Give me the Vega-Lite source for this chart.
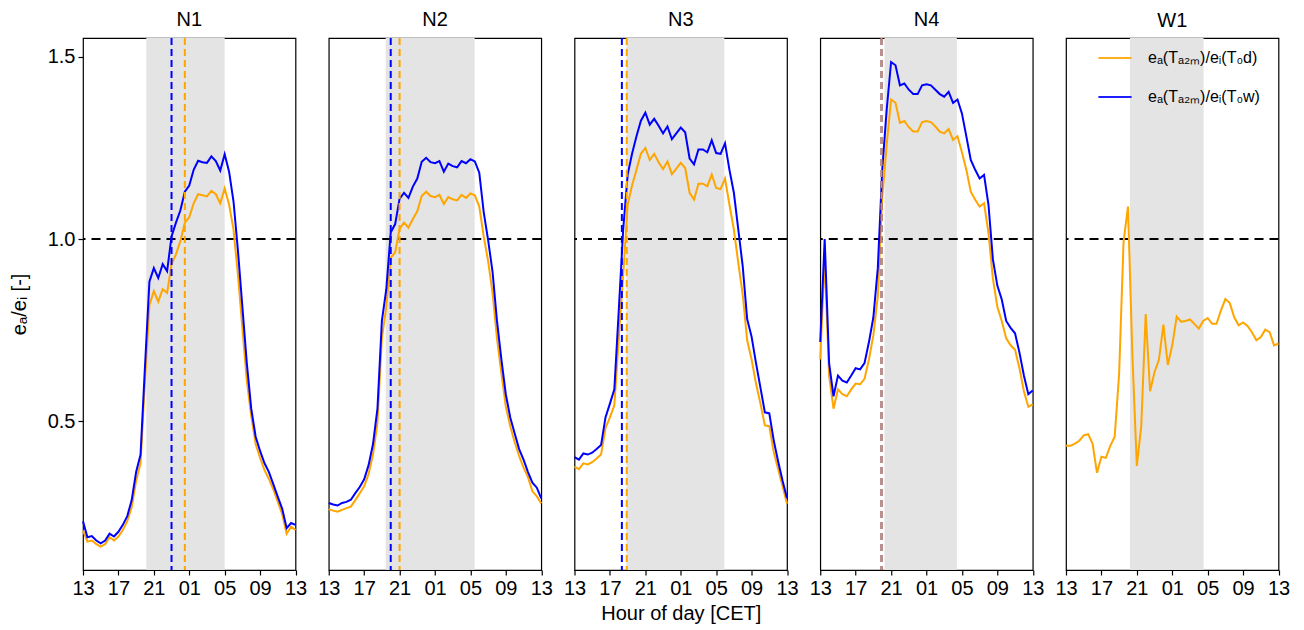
{
"$schema":"https://vega.github.io/schema/vega-lite/v6.json",
"padding":{"left":8,"top":9,"right":10,"bottom":5},
"bounds":"flush",
"spacing":32.75,
"background":"white",
"config":{
 "font":"Liberation Sans",
 "view":{"stroke":"black","strokeWidth":1.2},
 "axis":{"grid":false,"domain":false,"tickColor":"black","tickSize":5,"tickWidth":1.2,"labelColor":"black","labelFontSize":20,"labelFont":"Liberation Sans","titleFont":"Liberation Sans","titleFontSize":20,"titleFontWeight":"normal","titleColor":"black","labelFlush":false,"labelOverlap":false,"labelPadding":3},
 "title":{"fontSize":20,"fontWeight":"normal","color":"black","font":"Liberation Sans","offset":7},
 "legend":{"orient":"none","legendX":1014,"legendY":2,"labelFontSize":16,"labelFont":"Liberation Sans","labelColor":"black","symbolType":"stroke","symbolStrokeWidth":2,"symbolSize":1100,"rowPadding":13,"labelOffset":15,"padding":0,"labelLimit":300}
},
"datasets":{
 "shade":[{"p":"N1","s":7.15,"e":16.0},{"p":"N2","s":6.43,"e":16.48},{"p":"N3","s":5.85,"e":16.92},{"p":"N4","s":7.26,"e":15.43},{"p":"W1","s":7.22,"e":15.54}],
 "vlines":[{"p":"N1","h":10.0,"series":"w"},{"p":"N1","h":11.5,"series":"d"},{"p":"N2","h":7.0,"series":"w"},{"p":"N2","h":8.0,"series":"d"},{"p":"N3","h":5.35,"series":"w"},{"p":"N3","h":5.9,"series":"d"},{"p":"N4","h":6.92,"series":"w"},{"p":"N4","h":6.92,"series":"d"}],
 "lines":[
{"p":"N1","h":0,"d":0.200,"w":0.225},{"p":"N1","h":0.5,"d":0.169,"w":0.181},{"p":"N1","h":1,"d":0.172,"w":0.184},{"p":"N1","h":1.5,"d":0.162,"w":0.172},{"p":"N1","h":2,"d":0.155,"w":0.164},{"p":"N1","h":2.5,"d":0.162,"w":0.172},{"p":"N1","h":3,"d":0.181,"w":0.191},{"p":"N1","h":3.5,"d":0.172,"w":0.183},{"p":"N1","h":4,"d":0.183,"w":0.196},{"p":"N1","h":4.5,"d":0.201,"w":0.215},{"p":"N1","h":5,"d":0.225,"w":0.239},{"p":"N1","h":5.5,"d":0.263,"w":0.283},{"p":"N1","h":6,"d":0.336,"w":0.360},{"p":"N1","h":6.5,"d":0.384,"w":0.408},{"p":"N1","h":7,"d":0.611,"w":0.650},{"p":"N1","h":7.5,"d":0.818,"w":0.883},{"p":"N1","h":8,"d":0.857,"w":0.920},{"p":"N1","h":8.5,"d":0.828,"w":0.893},{"p":"N1","h":9,"d":0.862,"w":0.931},{"p":"N1","h":9.5,"d":0.852,"w":0.912},{"p":"N1","h":10,"d":0.931,"w":1.007},{"p":"N1","h":10.5,"d":0.958,"w":1.045},{"p":"N1","h":11,"d":0.994,"w":1.079},{"p":"N1","h":11.5,"d":1.045,"w":1.130},{"p":"N1","h":12,"d":1.060,"w":1.147},{"p":"N1","h":12.5,"d":1.098,"w":1.190},{"p":"N1","h":13,"d":1.123,"w":1.215},{"p":"N1","h":13.5,"d":1.120,"w":1.211},{"p":"N1","h":14,"d":1.117,"w":1.209},{"p":"N1","h":14.5,"d":1.132,"w":1.227},{"p":"N1","h":15,"d":1.123,"w":1.214},{"p":"N1","h":15.5,"d":1.098,"w":1.188},{"p":"N1","h":16,"d":1.139,"w":1.233},{"p":"N1","h":16.5,"d":1.094,"w":1.185},{"p":"N1","h":17,"d":1.026,"w":1.103},{"p":"N1","h":17.5,"d":0.901,"w":0.968},{"p":"N1","h":18,"d":0.756,"w":0.814},{"p":"N1","h":18.5,"d":0.611,"w":0.659},{"p":"N1","h":19,"d":0.514,"w":0.534},{"p":"N1","h":19.5,"d":0.437,"w":0.457},{"p":"N1","h":20,"d":0.399,"w":0.418},{"p":"N1","h":20.5,"d":0.365,"w":0.384},{"p":"N1","h":21,"d":0.341,"w":0.360},{"p":"N1","h":21.5,"d":0.312,"w":0.326},{"p":"N1","h":22,"d":0.278,"w":0.292},{"p":"N1","h":22.5,"d":0.244,"w":0.259},{"p":"N1","h":23,"d":0.191,"w":0.206},{"p":"N1","h":23.5,"d":0.210,"w":0.220},{"p":"N1","h":24,"d":0.201,"w":0.215},
{"p":"N2","h":0,"d":0.258,"w":0.275},{"p":"N2","h":0.5,"d":0.254,"w":0.271},{"p":"N2","h":1,"d":0.251,"w":0.268},{"p":"N2","h":1.5,"d":0.256,"w":0.275},{"p":"N2","h":2,"d":0.261,"w":0.278},{"p":"N2","h":2.5,"d":0.265,"w":0.284},{"p":"N2","h":3,"d":0.283,"w":0.302},{"p":"N2","h":3.5,"d":0.302,"w":0.319},{"p":"N2","h":4,"d":0.321,"w":0.340},{"p":"N2","h":4.5,"d":0.355,"w":0.379},{"p":"N2","h":5,"d":0.408,"w":0.437},{"p":"N2","h":5.5,"d":0.495,"w":0.534},{"p":"N2","h":6,"d":0.727,"w":0.775},{"p":"N2","h":6.5,"d":0.814,"w":0.862},{"p":"N2","h":7,"d":0.949,"w":1.018},{"p":"N2","h":7.5,"d":0.963,"w":1.041},{"p":"N2","h":8,"d":1.028,"w":1.110},{"p":"N2","h":8.5,"d":1.045,"w":1.127},{"p":"N2","h":9,"d":1.031,"w":1.113},{"p":"N2","h":9.5,"d":1.055,"w":1.144},{"p":"N2","h":10,"d":1.076,"w":1.166},{"p":"N2","h":10.5,"d":1.118,"w":1.212},{"p":"N2","h":11,"d":1.130,"w":1.223},{"p":"N2","h":11.5,"d":1.118,"w":1.211},{"p":"N2","h":12,"d":1.115,"w":1.208},{"p":"N2","h":12.5,"d":1.121,"w":1.214},{"p":"N2","h":13,"d":1.096,"w":1.185},{"p":"N2","h":13.5,"d":1.115,"w":1.207},{"p":"N2","h":14,"d":1.109,"w":1.200},{"p":"N2","h":14.5,"d":1.106,"w":1.197},{"p":"N2","h":15,"d":1.121,"w":1.214},{"p":"N2","h":15.5,"d":1.113,"w":1.208},{"p":"N2","h":16,"d":1.125,"w":1.219},{"p":"N2","h":16.5,"d":1.120,"w":1.213},{"p":"N2","h":17,"d":1.089,"w":1.182},{"p":"N2","h":17.5,"d":1.007,"w":1.074},{"p":"N2","h":18,"d":0.939,"w":0.997},{"p":"N2","h":18.5,"d":0.852,"w":0.910},{"p":"N2","h":19,"d":0.727,"w":0.775},{"p":"N2","h":19.5,"d":0.631,"w":0.669},{"p":"N2","h":20,"d":0.539,"w":0.573},{"p":"N2","h":20.5,"d":0.486,"w":0.510},{"p":"N2","h":21,"d":0.442,"w":0.466},{"p":"N2","h":21.5,"d":0.404,"w":0.423},{"p":"N2","h":22,"d":0.372,"w":0.394},{"p":"N2","h":22.5,"d":0.346,"w":0.360},{"p":"N2","h":23,"d":0.307,"w":0.331},{"p":"N2","h":23.5,"d":0.293,"w":0.317},{"p":"N2","h":24,"d":0.274,"w":0.288},
{"p":"N3","h":0,"d":0.375,"w":0.401},{"p":"N3","h":0.5,"d":0.368,"w":0.394},{"p":"N3","h":1,"d":0.384,"w":0.411},{"p":"N3","h":1.5,"d":0.381,"w":0.408},{"p":"N3","h":2,"d":0.387,"w":0.413},{"p":"N3","h":2.5,"d":0.397,"w":0.423},{"p":"N3","h":3,"d":0.408,"w":0.434},{"p":"N3","h":3.5,"d":0.481,"w":0.510},{"p":"N3","h":4,"d":0.510,"w":0.548},{"p":"N3","h":4.5,"d":0.543,"w":0.587},{"p":"N3","h":5,"d":0.727,"w":0.804},{"p":"N3","h":5.5,"d":0.901,"w":1.026},{"p":"N3","h":6,"d":1.094,"w":1.176},{"p":"N3","h":6.5,"d":1.147,"w":1.234},{"p":"N3","h":7,"d":1.190,"w":1.282},{"p":"N3","h":7.5,"d":1.234,"w":1.325},{"p":"N3","h":8,"d":1.250,"w":1.347},{"p":"N3","h":8.5,"d":1.217,"w":1.314},{"p":"N3","h":9,"d":1.234,"w":1.330},{"p":"N3","h":9.5,"d":1.211,"w":1.311},{"p":"N3","h":10,"d":1.192,"w":1.290},{"p":"N3","h":10.5,"d":1.213,"w":1.309},{"p":"N3","h":11,"d":1.178,"w":1.274},{"p":"N3","h":11.5,"d":1.193,"w":1.290},{"p":"N3","h":12,"d":1.209,"w":1.306},{"p":"N3","h":12.5,"d":1.195,"w":1.293},{"p":"N3","h":13,"d":1.127,"w":1.221},{"p":"N3","h":13.5,"d":1.108,"w":1.205},{"p":"N3","h":14,"d":1.152,"w":1.246},{"p":"N3","h":14.5,"d":1.152,"w":1.246},{"p":"N3","h":15,"d":1.145,"w":1.238},{"p":"N3","h":15.5,"d":1.177,"w":1.271},{"p":"N3","h":16,"d":1.140,"w":1.236},{"p":"N3","h":16.5,"d":1.137,"w":1.234},{"p":"N3","h":17,"d":1.166,"w":1.263},{"p":"N3","h":17.5,"d":1.094,"w":1.190},{"p":"N3","h":18,"d":1.026,"w":1.127},{"p":"N3","h":18.5,"d":0.934,"w":1.026},{"p":"N3","h":19,"d":0.847,"w":0.925},{"p":"N3","h":19.5,"d":0.722,"w":0.780},{"p":"N3","h":20,"d":0.669,"w":0.732},{"p":"N3","h":20.5,"d":0.603,"w":0.659},{"p":"N3","h":21,"d":0.548,"w":0.592},{"p":"N3","h":21.5,"d":0.488,"w":0.524},{"p":"N3","h":22,"d":0.486,"w":0.521},{"p":"N3","h":22.5,"d":0.415,"w":0.447},{"p":"N3","h":23,"d":0.368,"w":0.389},{"p":"N3","h":23.5,"d":0.321,"w":0.336},{"p":"N3","h":24,"d":0.273,"w":0.288},
{"p":"N4","h":0,"d":0.669,"w":0.717},{"p":"N4","h":0.5,"d":0.950,"w":1.000},{"p":"N4","h":1,"d":0.625,"w":0.659},{"p":"N4","h":1.5,"d":0.534,"w":0.568},{"p":"N4","h":2,"d":0.587,"w":0.625},{"p":"N4","h":2.5,"d":0.574,"w":0.611},{"p":"N4","h":3,"d":0.568,"w":0.606},{"p":"N4","h":3.5,"d":0.587,"w":0.625},{"p":"N4","h":4,"d":0.603,"w":0.645},{"p":"N4","h":4.5,"d":0.601,"w":0.642},{"p":"N4","h":5,"d":0.616,"w":0.659},{"p":"N4","h":5.5,"d":0.669,"w":0.717},{"p":"N4","h":6,"d":0.736,"w":0.785},{"p":"N4","h":6.5,"d":0.843,"w":0.920},{"p":"N4","h":7,"d":1.113,"w":1.190},{"p":"N4","h":7.5,"d":1.258,"w":1.354},{"p":"N4","h":8,"d":1.383,"w":1.486},{"p":"N4","h":8.5,"d":1.374,"w":1.477},{"p":"N4","h":9,"d":1.319,"w":1.422},{"p":"N4","h":9.5,"d":1.324,"w":1.427},{"p":"N4","h":10,"d":1.307,"w":1.410},{"p":"N4","h":10.5,"d":1.295,"w":1.398},{"p":"N4","h":11,"d":1.295,"w":1.398},{"p":"N4","h":11.5,"d":1.321,"w":1.422},{"p":"N4","h":12,"d":1.324,"w":1.425},{"p":"N4","h":12.5,"d":1.321,"w":1.422},{"p":"N4","h":13,"d":1.309,"w":1.410},{"p":"N4","h":13.5,"d":1.295,"w":1.398},{"p":"N4","h":14,"d":1.290,"w":1.391},{"p":"N4","h":14.5,"d":1.302,"w":1.404},{"p":"N4","h":15,"d":1.272,"w":1.374},{"p":"N4","h":15.5,"d":1.282,"w":1.383},{"p":"N4","h":16,"d":1.238,"w":1.345},{"p":"N4","h":16.5,"d":1.190,"w":1.282},{"p":"N4","h":17,"d":1.130,"w":1.217},{"p":"N4","h":17.5,"d":1.108,"w":1.190},{"p":"N4","h":18,"d":1.089,"w":1.166},{"p":"N4","h":18.5,"d":1.098,"w":1.176},{"p":"N4","h":19,"d":1.016,"w":1.094},{"p":"N4","h":19.5,"d":0.891,"w":0.944},{"p":"N4","h":20,"d":0.814,"w":0.872},{"p":"N4","h":20.5,"d":0.775,"w":0.834},{"p":"N4","h":21,"d":0.727,"w":0.775},{"p":"N4","h":21.5,"d":0.708,"w":0.756},{"p":"N4","h":22,"d":0.696,"w":0.741},{"p":"N4","h":22.5,"d":0.645,"w":0.688},{"p":"N4","h":23,"d":0.582,"w":0.625},{"p":"N4","h":23.5,"d":0.539,"w":0.574},{"p":"N4","h":24,"d":0.546,"w":0.584},
{"p":"W1","h":0,"d":0.432},{"p":"W1","h":0.5,"d":0.432},{"p":"W1","h":1,"d":0.438},{"p":"W1","h":1.5,"d":0.446},{"p":"W1","h":2,"d":0.461},{"p":"W1","h":2.5,"d":0.464},{"p":"W1","h":3,"d":0.438},{"p":"W1","h":3.5,"d":0.358},{"p":"W1","h":4,"d":0.402},{"p":"W1","h":4.5,"d":0.399},{"p":"W1","h":5,"d":0.432},{"p":"W1","h":5.5,"d":0.457},{"p":"W1","h":6,"d":0.630},{"p":"W1","h":6.5,"d":0.992},{"p":"W1","h":7,"d":1.089},{"p":"W1","h":7.5,"d":0.679},{"p":"W1","h":8,"d":0.377},{"p":"W1","h":8.5,"d":0.486},{"p":"W1","h":9,"d":0.794},{"p":"W1","h":9.5,"d":0.582},{"p":"W1","h":10,"d":0.635},{"p":"W1","h":10.5,"d":0.669},{"p":"W1","h":11,"d":0.765},{"p":"W1","h":11.5,"d":0.654},{"p":"W1","h":12,"d":0.708},{"p":"W1","h":12.5,"d":0.787},{"p":"W1","h":13,"d":0.773},{"p":"W1","h":13.5,"d":0.775},{"p":"W1","h":14,"d":0.779},{"p":"W1","h":14.5,"d":0.767},{"p":"W1","h":15,"d":0.754},{"p":"W1","h":15.5,"d":0.775},{"p":"W1","h":16,"d":0.783},{"p":"W1","h":16.5,"d":0.767},{"p":"W1","h":17,"d":0.767},{"p":"W1","h":17.5,"d":0.804},{"p":"W1","h":18,"d":0.835},{"p":"W1","h":18.5,"d":0.824},{"p":"W1","h":19,"d":0.785},{"p":"W1","h":19.5,"d":0.763},{"p":"W1","h":20,"d":0.771},{"p":"W1","h":20.5,"d":0.761},{"p":"W1","h":21,"d":0.744},{"p":"W1","h":21.5,"d":0.722},{"p":"W1","h":22,"d":0.731},{"p":"W1","h":22.5,"d":0.751},{"p":"W1","h":23,"d":0.744},{"p":"W1","h":23.5,"d":0.708},{"p":"W1","h":24,"d":0.713}
 ]
},
"resolve":{"scale":{"color":"shared","x":"independent","y":"independent"}},
"hconcat":[
 {"width":212.5,"height":532,"title":"N1","layer":[
  {"data":{"name":"shade"},"transform":[{"filter":"datum.p=='N1'"}],"mark":{"type":"rect","color":"#e4e4e4"},
   "encoding":{"x":{"field":"s","type":"quantitative","scale":{"domain":[0,24],"nice":false,"zero":false},"axis":{"values":[0,4,8,12,16,20,24],"labelExpr":"(((datum.value+13)%24)<10?'0':'')+((datum.value+13)%24)","title":null}},"x2":{"field":"e"}}},
  {"data":{"values":[{}]},"mark":{"type":"rule","color":"black","strokeWidth":2,"strokeDash":[9,6]},
   "encoding":{"y":{"datum":1.0,"type":"quantitative","scale":{"domain":[0.091,1.552],"nice":false,"zero":false},"axis":{"values":[0.5,1.0,1.5],"format":".1f","title":"eₐ/eᵢ [-]","titlePadding":18}}}},
  {"data":{"name":"lines"},"transform":[{"filter":"datum.p=='N1'"},{"fold":["d","w"],"as":["series","value"]},{"filter":"isValid(datum.value)"}],"mark":{"type":"line","strokeWidth":2},
   "encoding":{"x":{"field":"h","type":"quantitative","axis":{"values":[0,4,8,12,16,20,24],"labelExpr":"(((datum.value+13)%24)<10?'0':'')+((datum.value+13)%24)","title":null}},"y":{"field":"value","type":"quantitative","axis":{"values":[0.5,1.0,1.5],"format":".1f","title":"eₐ/eᵢ [-]","titlePadding":18}},"color":{"field":"series","type":"nominal","scale":{"domain":["d","w"],"range":["#ffa500","#0000ff"]},"legend":{"title":null,"labelExpr":"datum.value=='d'?'eₐ(Tₐ₂ₘ)/eᵢ(T₀d)':'eₐ(Tₐ₂ₘ)/eᵢ(T₀w)'"}}}},
  {"data":{"name":"vlines"},"transform":[{"filter":"datum.p=='N1'"}],"mark":{"type":"rule","strokeWidth":2,"strokeDash":[7,4]},
   "encoding":{"x":{"field":"h","type":"quantitative","axis":{"values":[0,4,8,12,16,20,24],"labelExpr":"(((datum.value+13)%24)<10?'0':'')+((datum.value+13)%24)","title":null}},"color":{"field":"series","type":"nominal","legend":{"title":null,"labelExpr":"datum.value=='d'?'eₐ(Tₐ₂ₘ)/eᵢ(T₀d)':'eₐ(Tₐ₂ₘ)/eᵢ(T₀w)'"}}}}
 ]},
 {"width":212.5,"height":532,"title":"N2","layer":[
  {"data":{"name":"shade"},"transform":[{"filter":"datum.p=='N2'"}],"mark":{"type":"rect","color":"#e4e4e4"},
   "encoding":{"x":{"field":"s","type":"quantitative","scale":{"domain":[0,24],"nice":false,"zero":false},"axis":{"values":[0,4,8,12,16,20,24],"labelExpr":"(((datum.value+13)%24)<10?'0':'')+((datum.value+13)%24)","title":null}},"x2":{"field":"e"}}},
  {"data":{"values":[{}]},"mark":{"type":"rule","color":"black","strokeWidth":2,"strokeDash":[9,6]},
   "encoding":{"y":{"datum":1.0,"type":"quantitative","scale":{"domain":[0.091,1.552],"nice":false,"zero":false},"axis":null}}},
  {"data":{"name":"lines"},"transform":[{"filter":"datum.p=='N2'"},{"fold":["d","w"],"as":["series","value"]},{"filter":"isValid(datum.value)"}],"mark":{"type":"line","strokeWidth":2},
   "encoding":{"x":{"field":"h","type":"quantitative","axis":{"values":[0,4,8,12,16,20,24],"labelExpr":"(((datum.value+13)%24)<10?'0':'')+((datum.value+13)%24)","title":null}},"y":{"field":"value","type":"quantitative","axis":null},"color":{"field":"series","type":"nominal","legend":{"title":null,"labelExpr":"datum.value=='d'?'eₐ(Tₐ₂ₘ)/eᵢ(T₀d)':'eₐ(Tₐ₂ₘ)/eᵢ(T₀w)'"}}}},
  {"data":{"name":"vlines"},"transform":[{"filter":"datum.p=='N2'"}],"mark":{"type":"rule","strokeWidth":2,"strokeDash":[7,4]},
   "encoding":{"x":{"field":"h","type":"quantitative","axis":{"values":[0,4,8,12,16,20,24],"labelExpr":"(((datum.value+13)%24)<10?'0':'')+((datum.value+13)%24)","title":null}},"color":{"field":"series","type":"nominal","legend":{"title":null,"labelExpr":"datum.value=='d'?'eₐ(Tₐ₂ₘ)/eᵢ(T₀d)':'eₐ(Tₐ₂ₘ)/eᵢ(T₀w)'"}}}}
 ]},
 {"width":212.5,"height":532,"title":"N3","layer":[
  {"data":{"name":"shade"},"transform":[{"filter":"datum.p=='N3'"}],"mark":{"type":"rect","color":"#e4e4e4"},
   "encoding":{"x":{"field":"s","type":"quantitative","scale":{"domain":[0,24],"nice":false,"zero":false},"axis":{"values":[0,4,8,12,16,20,24],"labelExpr":"(((datum.value+13)%24)<10?'0':'')+((datum.value+13)%24)","title":"Hour of day [CET]","titlePadding":5}},"x2":{"field":"e"}}},
  {"data":{"values":[{}]},"mark":{"type":"rule","color":"black","strokeWidth":2,"strokeDash":[9,6]},
   "encoding":{"y":{"datum":1.0,"type":"quantitative","scale":{"domain":[0.091,1.552],"nice":false,"zero":false},"axis":null}}},
  {"data":{"name":"lines"},"transform":[{"filter":"datum.p=='N3'"},{"fold":["d","w"],"as":["series","value"]},{"filter":"isValid(datum.value)"}],"mark":{"type":"line","strokeWidth":2},
   "encoding":{"x":{"field":"h","type":"quantitative","axis":{"values":[0,4,8,12,16,20,24],"labelExpr":"(((datum.value+13)%24)<10?'0':'')+((datum.value+13)%24)","title":"Hour of day [CET]","titlePadding":5}},"y":{"field":"value","type":"quantitative","axis":null},"color":{"field":"series","type":"nominal","legend":{"title":null,"labelExpr":"datum.value=='d'?'eₐ(Tₐ₂ₘ)/eᵢ(T₀d)':'eₐ(Tₐ₂ₘ)/eᵢ(T₀w)'"}}}},
  {"data":{"name":"vlines"},"transform":[{"filter":"datum.p=='N3'"}],"mark":{"type":"rule","strokeWidth":2,"strokeDash":[7,4]},
   "encoding":{"x":{"field":"h","type":"quantitative","axis":{"values":[0,4,8,12,16,20,24],"labelExpr":"(((datum.value+13)%24)<10?'0':'')+((datum.value+13)%24)","title":"Hour of day [CET]","titlePadding":5}},"color":{"field":"series","type":"nominal","legend":{"title":null,"labelExpr":"datum.value=='d'?'eₐ(Tₐ₂ₘ)/eᵢ(T₀d)':'eₐ(Tₐ₂ₘ)/eᵢ(T₀w)'"}}}}
 ]},
 {"width":212.5,"height":532,"title":"N4","layer":[
  {"data":{"name":"shade"},"transform":[{"filter":"datum.p=='N4'"}],"mark":{"type":"rect","color":"#e4e4e4"},
   "encoding":{"x":{"field":"s","type":"quantitative","scale":{"domain":[0,24],"nice":false,"zero":false},"axis":{"values":[0,4,8,12,16,20,24],"labelExpr":"(((datum.value+13)%24)<10?'0':'')+((datum.value+13)%24)","title":null}},"x2":{"field":"e"}}},
  {"data":{"values":[{}]},"mark":{"type":"rule","color":"black","strokeWidth":2,"strokeDash":[9,6]},
   "encoding":{"y":{"datum":1.0,"type":"quantitative","scale":{"domain":[0.091,1.552],"nice":false,"zero":false},"axis":null}}},
  {"data":{"name":"lines"},"transform":[{"filter":"datum.p=='N4'"},{"fold":["d","w"],"as":["series","value"]},{"filter":"isValid(datum.value)"}],"mark":{"type":"line","strokeWidth":2},
   "encoding":{"x":{"field":"h","type":"quantitative","axis":{"values":[0,4,8,12,16,20,24],"labelExpr":"(((datum.value+13)%24)<10?'0':'')+((datum.value+13)%24)","title":null}},"y":{"field":"value","type":"quantitative","axis":null},"color":{"field":"series","type":"nominal","legend":{"title":null,"labelExpr":"datum.value=='d'?'eₐ(Tₐ₂ₘ)/eᵢ(T₀d)':'eₐ(Tₐ₂ₘ)/eᵢ(T₀w)'"}}}},
  {"data":{"name":"vlines"},"transform":[{"filter":"datum.p=='N4' && datum.series=='w'"}],"mark":{"type":"rule","strokeWidth":2,"strokeDash":[7,4]},
   "encoding":{"x":{"field":"h","type":"quantitative","axis":{"values":[0,4,8,12,16,20,24],"labelExpr":"(((datum.value+13)%24)<10?'0':'')+((datum.value+13)%24)","title":null}},"color":{"field":"series","type":"nominal","legend":{"title":null,"labelExpr":"datum.value=='d'?'eₐ(Tₐ₂ₘ)/eᵢ(T₀d)':'eₐ(Tₐ₂ₘ)/eᵢ(T₀w)'"}}}},
  {"data":{"name":"vlines"},"transform":[{"filter":"datum.p=='N4' && datum.series=='d'"}],"mark":{"type":"rule","strokeWidth":2,"strokeDash":[7,4],"opacity":0.88},
   "encoding":{"x":{"field":"h","type":"quantitative","axis":{"values":[0,4,8,12,16,20,24],"labelExpr":"(((datum.value+13)%24)<10?'0':'')+((datum.value+13)%24)","title":null}},"color":{"field":"series","type":"nominal","legend":{"title":null,"labelExpr":"datum.value=='d'?'eₐ(Tₐ₂ₘ)/eᵢ(T₀d)':'eₐ(Tₐ₂ₘ)/eᵢ(T₀w)'"}}}}
 ]},
 {"width":212.5,"height":532,"title":"W1","layer":[
  {"data":{"name":"shade"},"transform":[{"filter":"datum.p=='W1'"}],"mark":{"type":"rect","color":"#e4e4e4"},
   "encoding":{"x":{"field":"s","type":"quantitative","scale":{"domain":[0,24],"nice":false,"zero":false},"axis":{"values":[0,4,8,12,16,20,24],"labelExpr":"(((datum.value+13)%24)<10?'0':'')+((datum.value+13)%24)","title":null}},"x2":{"field":"e"}}},
  {"data":{"values":[{}]},"mark":{"type":"rule","color":"black","strokeWidth":2,"strokeDash":[9,6]},
   "encoding":{"y":{"datum":1.0,"type":"quantitative","scale":{"domain":[0.091,1.552],"nice":false,"zero":false},"axis":null}}},
  {"data":{"name":"lines"},"transform":[{"filter":"datum.p=='W1'"},{"fold":["d","w"],"as":["series","value"]},{"filter":"isValid(datum.value)"}],"mark":{"type":"line","strokeWidth":2},
   "encoding":{"x":{"field":"h","type":"quantitative","axis":{"values":[0,4,8,12,16,20,24],"labelExpr":"(((datum.value+13)%24)<10?'0':'')+((datum.value+13)%24)","title":null}},"y":{"field":"value","type":"quantitative","axis":null},"color":{"field":"series","type":"nominal","legend":{"title":null,"labelExpr":"datum.value=='d'?'eₐ(Tₐ₂ₘ)/eᵢ(T₀d)':'eₐ(Tₐ₂ₘ)/eᵢ(T₀w)'"}}}}
 ]}
]
}
